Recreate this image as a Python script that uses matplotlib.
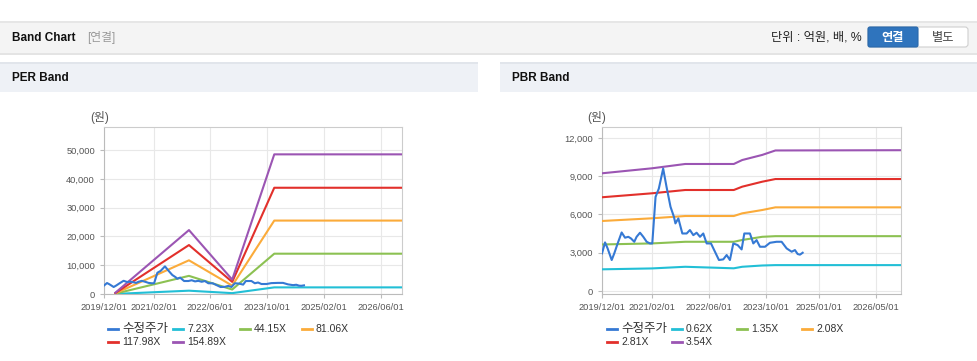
import numpy as np
import pandas as pd
import matplotlib
matplotlib.use("Agg")
import matplotlib.pyplot as plt
import matplotlib.dates as mdates
from matplotlib.patches import Rectangle, FancyBboxPatch
from matplotlib.lines import Line2D
from matplotlib.ticker import FuncFormatter

plt.rcParams["font.family"] = ["Liberation Sans", "Noto Sans CJK KR"]

# adjusted price (same series on both charts)
price_dates = [
    "2019-12-01", "2019-12-27", "2020-01-18", "2020-02-22", "2020-03-15", "2020-04-13",
    "2020-05-17", "2020-06-15", "2020-07-13", "2020-08-05", "2020-09-02", "2020-09-22",
    "2020-10-21", "2020-11-18", "2020-12-17", "2021-01-14", "2021-02-03", "2021-03-03",
    "2021-03-31", "2021-05-07", "2021-06-05", "2021-07-09", "2021-08-07", "2021-08-20",
    "2021-09-14", "2021-10-18", "2021-11-24", "2021-12-22", "2022-01-20", "2022-02-17",
    "2022-03-18", "2022-04-15", "2022-05-14", "2022-06-20", "2022-07-24", "2022-08-27",
    "2022-10-03", "2022-11-01", "2022-11-29", "2022-12-28", "2023-02-03", "2023-03-09",
    "2023-04-01", "2023-05-19", "2023-06-17", "2023-07-15", "2023-08-13", "2023-09-25",
    "2023-11-06", "2024-01-02", "2024-02-14", "2024-03-28", "2024-05-10", "2024-06-07",
    "2024-06-30", "2024-07-20", "2024-08-12",
]
price = [
    2950, 3810, 3340, 2430, 2950, 3730,
    4590, 4180, 4250, 4120, 3860, 4250,
    4570, 4250, 3860, 3730, 3730, 7380,
    8030, 9600, 8160, 6600, 5820, 5300,
    5690, 4510, 4510, 4780, 4380, 4570,
    4250, 4510, 3730, 3730, 3080, 2430,
    2480, 2820, 2430, 3730, 3600, 3260,
    4510, 4510, 3730, 3990, 3470, 3470,
    3780, 3860, 3860, 3340, 3080, 3210,
    2900, 2850, 3000,
]

# PER band
per_dates = ["2020-03-08", "2021-11-29", "2022-12-05", "2023-12-01", "2026-12-01"]
per_723 = [30, 1150, 300, 2300, 2300]
per_4415 = [130, 6300, 1550, 14000, 14000]
per_8106 = [240, 11700, 2900, 25500, 25500]
per_11798 = [350, 17000, 4200, 36900, 36900]
per_15489 = [460, 22200, 5000, 48500, 48500]
per_labels = ["수정주가", "7.23X", "44.15X", "81.06X", "117.98X", "154.89X"]
per_ticks = ["2019-12-01", "2021-02-01", "2022-06-01", "2023-10-01", "2025-02-01", "2026-06-01"]

# PBR band
pbr_dates = ["2019-12-01", "2021-01-30", "2021-11-12", "2023-01-01", "2023-03-14",
             "2023-09-01", "2023-12-23", "2026-12-01"]
pbr_062 = [1700, 1770, 1900, 1780, 1900, 2000, 2030, 2030]
pbr_135 = [3650, 3730, 3860, 3860, 4000, 4250, 4300, 4300]
pbr_208 = [5490, 5700, 5880, 5880, 6090, 6350, 6560, 6560]
pbr_281 = [7350, 7660, 7920, 7920, 8180, 8570, 8780, 8780]
pbr_354 = [9230, 9620, 9960, 9960, 10270, 10670, 11020, 11040]
pbr_labels = ["수정주가", "0.62X", "1.35X", "2.08X", "2.81X", "3.54X"]
pbr_ticks = ["2019-12-01", "2021-02-01", "2022-06-01", "2023-10-01", "2025-01-01", "2026-05-01"]

colors = ["#3579d4", "#22bfd6", "#8cc152", "#fbab3a", "#e2302b", "#9b55b3"]

W, H = 978, 361
fig = plt.figure(figsize=(W / 100, H / 100), dpi=100)

# page decoration drawn in pixel coordinates
bg = fig.add_axes([0, 0, 1, 1])
bg.set_xlim(0, W)
bg.set_ylim(H, 0)
bg.axis("off")
bg.add_patch(Rectangle((0, 52), W, 3, color="#e4e4e4", lw=0))
bg.add_patch(Rectangle((0, 21), W, 32, color="#f4f4f4", lw=0))
bg.add_patch(Rectangle((0, 21), W, 2, color="#e6e6e6", lw=0))
bg.text(12, 38, "Band Chart", fontsize=8.5, fontweight="bold", va="center", color="#111")
bg.text(87, 38, "[연결]", fontsize=8.5, va="center", color="#999")
bg.text(862, 38, "단위 : 억원, 배, %", fontsize=8.8, va="center", ha="right", color="#222")
bg.add_patch(FancyBboxPatch((868, 27), 100, 20, boxstyle="round,pad=0,rounding_size=3",
                            fc="white", ec="#cfcfcf", lw=0.8))
bg.add_patch(FancyBboxPatch((868, 27), 50, 20, boxstyle="round,pad=0,rounding_size=2",
                            fc="#2f74bd", ec="#2a69ab", lw=0.8))
bg.text(893, 37.5, "연결", fontsize=8.8, fontweight="bold", color="white", ha="center", va="center")
bg.text(943, 37.5, "별도", fontsize=8.8, color="#444", ha="center", va="center")

for x0, title in [(0, "PER Band"), (500, "PBR Band")]:
    bg.add_patch(Rectangle((x0, 62), 478, 30, color="#eef1f6", lw=0))
    bg.add_patch(Rectangle((x0, 62), 478, 2, color="#e1e5eb", lw=0))
    bg.text(x0 + 12, 78, title, fontsize=8.5, fontweight="bold", va="center", color="#111")


def legend_row(items, y, xs):
    for (lab, col), x in zip(items, xs):
        bg.add_line(Line2D([x - 5, x + 5], [y, y], color=col, lw=2))
        size = 7.5 if lab.isascii() else 9
        bg.text(x + 9, y, lab, fontsize=size, va="center", color="#333")


def band_chart(px, series, ticks, yticks, ylim, label_x):
    l, t, r, b = px
    ax = fig.add_axes([l / W, 1 - b / H, (r - l) / W, (b - t) / H])
    for (d, v), col in zip(series, colors):
        ax.plot(pd.to_datetime(d), v, color=col, lw=1.5, zorder=4 if col == colors[0] else 3)
    ax.set_xlim(pd.Timestamp("2019-12-01"), pd.Timestamp("2026-12-01"))
    ax.set_ylim(*ylim)
    ax.set_xticks(pd.to_datetime(ticks))
    ax.xaxis.set_major_formatter(mdates.DateFormatter("%Y/%m/%d"))
    ax.set_yticks(yticks)
    ax.yaxis.set_major_formatter(FuncFormatter(lambda v, p: f"{int(v):,}"))
    ax.tick_params(labelsize=6.7, colors="#bbbbbb", labelcolor="#555555", length=3, width=0.8)
    ax.grid(True, color="#e8e8e8", lw=0.8)
    ax.set_axisbelow(True)
    for s in ax.spines.values():
        s.set_color("#cccccc")
        s.set_linewidth(0.8)
    ax.spines["left"].set_color("#bbbbbb")
    ax.spines["bottom"].set_color("#bbbbbb")
    bg.text(label_x, 117, "(원)", fontsize=8.5, ha="center", va="center", color="#555")
    return ax


per_series = [(price_dates, price), (per_dates, per_723), (per_dates, per_4415),
              (per_dates, per_8106), (per_dates, per_11798), (per_dates, per_15489)]
band_chart((104, 127, 402, 294), per_series, per_ticks,
           [0, 10000, 20000, 30000, 40000, 50000], (0, 58000), 100)

pbr_series = [(price_dates, price), (pbr_dates, pbr_062), (pbr_dates, pbr_135),
              (pbr_dates, pbr_208), (pbr_dates, pbr_281), (pbr_dates, pbr_354)]
band_chart((602, 127, 901, 294), pbr_series, pbr_ticks,
           [0, 3000, 6000, 9000, 12000], (-235, 12860), 597)

legend_row(list(zip(per_labels[:4], colors[:4])), 329, [113, 178, 245, 307])
legend_row(list(zip(per_labels[4:], colors[4:])), 342, [113, 178])
legend_row(list(zip(pbr_labels[:4], colors[:4])), 329, [612, 677, 742, 807])
legend_row(list(zip(pbr_labels[4:], colors[4:])), 342, [612, 677])

fig.savefig("out.png", dpi=100)
